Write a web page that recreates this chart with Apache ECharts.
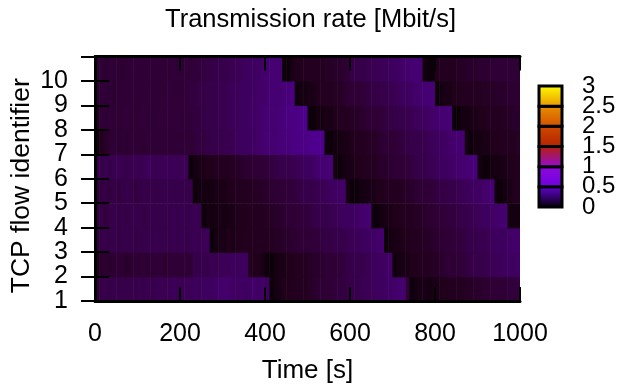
<!DOCTYPE html>
<html>
<head>
<meta charset="utf-8">
<script src="https://cdn.jsdelivr.net/npm/echarts@6/dist/echarts.min.js"></script>
<style>
html,body{margin:0;padding:0;background:#fff;}
#chart{width:621px;height:389px;}
</style>
</head>
<body>
<div id="chart"></div>
<script>
// ---- data ----
const binWidth = 10; // seconds per column
const flowIds = [1,2,3,4,5,6,7,8,9,10];
const xTicks = [0,200,400,600,800,1000];
const cbTicks = [0,0.5,1,1.5,2,2.5,3];

const flow1 = [.11,.13,.14,.13,.14,.14,.14,.14,.14,.14, .15,.14,.15,.14,.15,.16,.15,.16,.17,.16,
  .16,.17,.16,.18,.17,.18,.18,.18,.19,.20, .21,.20,.19,.18,.19,.18,.19,.20,.19,.20,
  .19,.02,.03,.04,.05,.05,.06,.06,.06,.06, .07,.08,.09,.10,.10,.10,.11,.12,.12,.13,
  .14,.14,.15,.16,.16,.17,.18,.18,.19,.19, .20,.21,.22,.10,.02,.03,.04,.04,.03,.04,
  .04,.05,.05,.06,.06,.06,.06,.07,.07,.08, .08,.09,.09,.10,.10,.10,.10,.11,.11,.12];
const flow2 = [.05,.08,.09,.08,.09,.10,.09,.08,.09,.10, .09,.10,.09,.10,.10,.10,.09,.10,.10,.10,
  .10,.10,.10,.14,.14,.15,.14,.16,.15,.16, .17,.16,.18,.17,.18,.18,.06,.05,.05,.04,
  .02,.02,.03,.04,.04,.05,.05,.06,.06,.06, .07,.08,.08,.09,.10,.10,.10,.11,.12,.13,
  .14,.14,.14,.15,.16,.17,.18,.18,.19,.20, .02,.03,.04,.04,.05,.05,.06,.06,.06,.07,
  .07,.08,.09,.10,.10,.10,.11,.12,.13,.14, .14,.14,.15,.16,.17,.17,.18,.18,.18,.19];
const flow3 = [.12,.13,.14,.13,.14,.13,.14,.14,.14,.13, .14,.14,.14,.14,.15,.14,.14,.14,.15,.14,
  .15,.14,.15,.16,.15,.16,.17,.02,.03,.04, .04,.05,.04,.05,.05,.06,.05,.06,.06,.06,
  .06,.06,.07,.07,.08,.08,.09,.09,.10,.10, .10,.11,.11,.12,.13,.13,.14,.14,.14,.15,
  .16,.17,.17,.18,.18,.19,.20,.21,.02,.03, .04,.04,.05,.05,.06,.06,.06,.07,.07,.08,
  .09,.09,.10,.10,.11,.11,.12,.13,.14,.14, .15,.15,.16,.17,.18,.18,.18,.19,.20,.20];
const flow4 = [.12,.13,.12,.13,.14,.13,.14,.13,.14,.14, .14,.13,.14,.14,.14,.14,.14,.14,.15,.14,
  .15,.14,.15,.16,.15,.02,.03,.03,.03,.04, .03,.04,.04,.05,.05,.05,.06,.06,.06,.06,
  .07,.07,.08,.08,.09,.10,.10,.10,.11,.11, .12,.13,.14,.14,.14,.15,.16,.17,.18,.18,
  .18,.19,.20,.21,.22,.02,.02,.03,.04,.04, .05,.05,.06,.06,.06,.07,.07,.08,.09,.09,
  .10,.10,.11,.12,.12,.13,.14,.14,.15,.16, .17,.18,.18,.19,.20,.21,.22,.03,.03,.03];
const flow5 = [.11,.12,.13,.12,.13,.12,.13,.14,.13,.12, .13,.14,.13,.14,.13,.14,.14,.14,.14,.14,
  .14,.14,.14,.02,.03,.03,.03,.03,.04,.04, .04,.05,.05,.06,.06,.06,.06,.07,.07,.08,
  .08,.09,.10,.10,.10,.11,.11,.12,.13,.14, .14,.14,.15,.16,.17,.18,.18,.19,.20,.03,
  .02,.02,.03,.03,.04,.04,.05,.05,.06,.06, .06,.06,.07,.08,.08,.09,.10,.10,.10,.11,
  .12,.13,.13,.14,.14,.15,.16,.17,.18,.18, .19,.20,.21,.22,.02,.02,.03,.04,.05,.06];
const flow6 = [.14,.14,.15,.14,.15,.16,.15,.14,.15,.16, .15,.16,.17,.16,.15,.16,.17,.16,.17,.16,
  .17,.16,.02,.03,.04,.04,.05,.05,.06,.06, .06,.06,.07,.07,.08,.09,.09,.10,.10,.10,
  .11,.12,.13,.14,.14,.14,.15,.16,.17,.18, .18,.19,.21,.22,.22,.23,.03,.02,.03,.04,
  .04,.05,.05,.06,.06,.06,.07,.08,.08,.09, .10,.10,.10,.11,.12,.13,.14,.14,.15,.16,
  .17,.18,.18,.19,.20,.21,.22,.22,.23,.24, .03,.02,.02,.03,.03,.04,.04,.05,.05,.06];
const flow7 = [.03,.05,.08,.09,.10,.09,.10,.09,.10,.10, .10,.09,.10,.10,.10,.10,.10,.10,.10,.10,
  .10,.10,.10,.11,.12,.12,.13,.14,.14,.14, .15,.15,.16,.17,.18,.18,.18,.19,.20,.21,
  .22,.22,.22,.23,.24,.24,.25,.26,.26,.26, .27,.28,.29,.27,.02,.02,.03,.03,.04,.04,
  .05,.06,.06,.06,.07,.07,.08,.09,.10,.10, .10,.11,.12,.13,.14,.14,.14,.15,.16,.17,
  .18,.18,.19,.20,.21,.22,.22,.03,.02,.03, .03,.04,.04,.05,.05,.06,.06,.06,.06,.07];
const flow8 = [.06,.10,.10,.10,.10,.10,.10,.11,.10,.10, .10,.11,.10,.10,.10,.11,.10,.11,.10,.11,
  .10,.11,.11,.12,.12,.13,.14,.14,.14,.15, .15,.16,.17,.17,.18,.18,.19,.19,.20,.21,
  .22,.22,.22,.23,.24,.25,.26,.26,.27,.28, .02,.02,.03,.03,.04,.04,.05,.06,.06,.06,
  .07,.07,.08,.09,.10,.10,.10,.11,.12,.13, .13,.14,.14,.15,.16,.17,.18,.18,.19,.20,
  .21,.22,.22,.23,.02,.02,.03,.03,.04,.04, .05,.05,.06,.06,.06,.06,.07,.07,.08,.08];
const flow9 = [.09,.10,.10,.10,.09,.10,.10,.10,.10,.10, .10,.10,.10,.10,.10,.10,.10,.11,.10,.10,
  .10,.11,.12,.12,.13,.13,.14,.14,.14,.15, .15,.16,.17,.17,.18,.18,.18,.19,.20,.20,
  .21,.22,.22,.22,.23,.24,.25,.02,.03,.03, .04,.04,.05,.06,.06,.06,.07,.07,.08,.09,
  .10,.10,.10,.11,.12,.13,.13,.14,.14,.15, .16,.17,.18,.18,.19,.20,.21,.22,.22,.23,
  .02,.03,.04,.04,.05,.05,.06,.06,.06,.06, .06,.07,.07,.07,.08,.08,.08,.09,.09,.09];
const flow10 = [.09,.10,.09,.10,.10,.10,.09,.10,.10,.10, .10,.10,.10,.10,.10,.10,.10,.10,.11,.10,
  .10,.11,.10,.11,.11,.12,.13,.13,.14,.14, .14,.15,.16,.16,.17,.18,.18,.18,.19,.20,
  .21,.22,.22,.22,.02,.02,.04,.05,.05,.06, .06,.06,.06,.06,.07,.07,.08,.08,.09,.10,
  .13,.14,.14,.14,.15,.15,.16,.17,.17,.18, .18,.19,.20,.21,.22,.22,.22,.03,.02,.02,
  .05,.06,.06,.06,.06,.07,.07,.08,.08,.08, .09,.09,.09,.10,.10,.10,.10,.10,.10,.10];

const flows = [flow1,flow2,flow3,flow4,flow5,flow6,flow7,flow8,flow9,flow10];

// ---- gnuplot default palette (rgbformulae 7,5,15) ----
function pal(x){
  x = Math.min(1, Math.max(0, x));
  const r = Math.sqrt(x), g = x*x*x, b = Math.max(0, Math.sin(2*Math.PI*x));
  return 'rgb(' + Math.round(255*r) + ',' + Math.round(255*g) + ',' + Math.round(255*b) + ')';
}
const cbMax = cbTicks[cbTicks.length-1];
const paletteColors = [];
for (let i = 0; i <= 60; i++) paletteColors.push(pal(i/60));

const heatData = [];
flows.forEach((arr, fi) => {
  arr.forEach((v, i) => heatData.push([i*binWidth, flowIds[fi], v]));
});
const cbCells = [];
for (let i = 0; i < cbTicks.length-1; i++) cbCells.push([cbTicks[i], cbTicks[i+1]]);

const FONT = '"Liberation Sans", Arial, Helvetica, sans-serif';
const chart = echarts.init(document.getElementById('chart'), null, {renderer:'canvas'});

const frameLine = {show:true, lineStyle:{color:'#000', width:3}};
const tick = {show:true, inside:true, length:14, lineStyle:{color:'#000', width:2}};
const noLabelHide = {interval:0, hideOverlap:false, showMinLabel:true, showMaxLabel:true};

// y tick labels split over two overlaid axes (odd / even) so none is dropped for overlap
const yLabelStyle = Object.assign({fontFamily:FONT, fontSize:25, color:'#000', margin:27, padding:[6,0,0,0]}, noLabelHide);
const cbLabelStyle = Object.assign({fontFamily:FONT, fontSize:24, color:'#000', margin:20}, noLabelHide);
const isOdd = v => Math.round(v) % 2 === 1;
const isHalfStep = v => Math.abs(v - Math.round(v)) > 0.25;

chart.setOption({
  animation:false,
  backgroundColor:'#fff',
  title:{
    text:'Transmission rate [Mbit/s]',
    left:'center', top:7, padding:[0,7,0,0],
    textStyle:{fontFamily:FONT, fontSize:25.5, fontWeight:'normal', color:'#000'}
  },
  grid:[
    {left:94, right:101, top:56.5, bottom:86.5, containLabel:false},
    {left:539, top:86, width:23, height:121, containLabel:false}
  ],
  visualMap:{
    type:'continuous', show:false, min:0, max:cbMax, dimension:2, seriesIndex:0,
    inRange:{color:paletteColors}
  },
  xAxis:[
    {type:'value', gridIndex:0, min:xTicks[0], max:xTicks[xTicks.length-1], interval:200, position:'bottom', z:10,
     axisLine:frameLine, axisTick:tick, splitLine:{show:false},
     axisLabel:Object.assign({fontFamily:FONT, fontSize:25, color:'#000', margin:21, formatter:v => String(v)}, noLabelHide),
     name:'Time [s]', nameLocation:'middle', nameGap:57,
     nameTextStyle:{fontFamily:FONT, fontSize:26, color:'#000'}},
    {type:'value', gridIndex:0, min:xTicks[0], max:xTicks[xTicks.length-1], interval:200, position:'top', z:10,
     axisLine:frameLine, axisTick:tick, splitLine:{show:false}, axisLabel:{show:false}},
    {type:'value', gridIndex:1, min:0, max:1, show:false}
  ],
  yAxis:[
    {type:'value', gridIndex:0, min:1, max:11, interval:1, position:'left', z:10,
     axisLine:frameLine, axisTick:tick, splitLine:{show:false},
     axisLabel:Object.assign({}, yLabelStyle, {formatter:v => (v < 11 && isOdd(v) ? String(v) : '')}),
     name:'TCP flow identifier', nameLocation:'middle', nameGap:60,
     nameTextStyle:{fontFamily:FONT, fontSize:26.5, color:'#000', padding:[0,14,0,0]}},
    {type:'value', gridIndex:0, min:1, max:11, interval:1, position:'right', z:10,
     axisLine:frameLine, axisTick:tick, splitLine:{show:false}, axisLabel:{show:false}},
    {type:'value', gridIndex:1, min:0, max:cbMax, interval:0.5, position:'right',
     axisLine:{show:false}, axisTick:{show:false}, splitLine:{show:false},
     axisLabel:Object.assign({}, cbLabelStyle, {formatter:v => (isHalfStep(v) ? '' : String(v))})},
    {type:'value', gridIndex:0, min:1, max:11, interval:1, position:'left', offset:0, z:10,
     axisLine:{show:false}, axisTick:{show:false}, splitLine:{show:false},
     axisLabel:Object.assign({}, yLabelStyle, {formatter:v => (v < 11 && !isOdd(v) ? String(v) : '')})},
    {type:'value', gridIndex:1, min:0, max:cbMax, interval:0.5, position:'right', offset:0,
     axisLine:{show:false}, axisTick:{show:false}, splitLine:{show:false},
     axisLabel:Object.assign({}, cbLabelStyle, {formatter:v => (isHalfStep(v) ? String(v) : '')})}
  ],
  series:[
    {
      type:'custom', xAxisIndex:0, yAxisIndex:0, clip:true,
      encode:{x:0, y:1},
      data:heatData,
      renderItem:function(params, api){
        const t = api.value(0), f = api.value(1);
        const p0 = api.coord([t, f+1]);
        const p1 = api.coord([t+binWidth, f]);
        return {type:'rect',
          shape:{x:p0[0], y:p0[1], width:p1[0]-p0[0]+0.6, height:p1[1]-p0[1]+0.6},
          style:{fill:api.visual('color')}};
      }
    },
    {
      type:'custom', xAxisIndex:2, yAxisIndex:2, clip:false,
      encode:{y:[0,1]},
      data:cbCells,
      renderItem:function(params, api){
        const lo = api.value(0), hi = api.value(1);
        const p0 = api.coord([0, hi]);
        const p1 = api.coord([1, lo]);
        return {type:'rect',
          shape:{x:p0[0], y:p0[1], width:p1[0]-p0[0], height:p1[1]-p0[1]},
          style:{
            fill:new echarts.graphic.LinearGradient(0,0,0,1,[
              {offset:0, color:pal(hi/cbMax)}, {offset:1, color:pal(lo/cbMax)}]),
            stroke:'#000', lineWidth:3
          }};
      }
    }
  ]
});
</script>
</body>
</html>
